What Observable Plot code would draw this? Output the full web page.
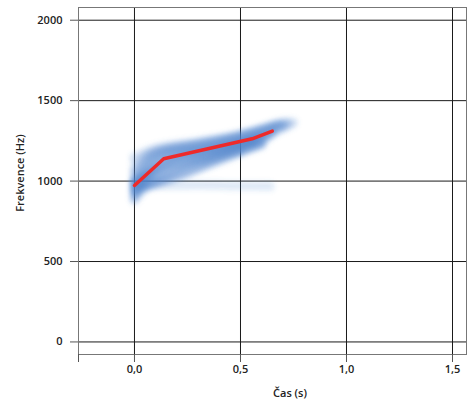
<!DOCTYPE html>
<html><head><meta charset="utf-8">
<script src="https://cdn.jsdelivr.net/npm/d3@7"></script>
<script src="https://cdn.jsdelivr.net/npm/@observablehq/plot@0.6"></script>
<style>body{margin:0;background:#fff}</style>
</head><body><div id="chart"></div>
<script>
// axis ticks
const xTicks = [0, 0.5, 1.0, 1.5];
const yTicks = [0, 500, 1000, 1500, 2000];
const xDomain = [-0.264, 1.566];
const yDomain = [-78, 2079];

// mean contour (red)
const meanTime = [0, 0.138, 0.555, 0.65];
const meanFreq = [973, 1139, 1263, 1311];

// individual contours (blue): [time s, frequency Hz]
const contour1  = [[0,1000],[0.10,1130],[0.30,1190],[0.50,1250],[0.62,1290],[0.72,1340]];
const contour2  = [[0,950],[0.12,1150],[0.35,1210],[0.55,1270],[0.70,1330]];
const contour3  = [[0,1050],[0.08,1170],[0.30,1225],[0.50,1285],[0.68,1360]];
const contour4  = [[0,920],[0.15,1120],[0.40,1200],[0.60,1260],[0.66,1300]];
const contour5  = [[0,980],[0.10,1100],[0.30,1170],[0.50,1230],[0.58,1270]];
const contour6  = [[0,1020],[0.12,1185],[0.40,1245],[0.60,1305],[0.74,1355]];
const contour7  = [[0,960],[0.15,1000],[0.30,1080],[0.50,1200],[0.62,1260]];
const contour8  = [[0,940],[0.20,1030],[0.40,1130],[0.60,1230]];
const contour9  = [[0.05,972],[0.30,975],[0.50,970],[0.64,968]];
const contour10 = [[0,990],[0.10,1060],[0.25,1100],[0.45,1180],[0.60,1240]];
const contour11 = [[0,900],[0.05,1020],[0.20,1140],[0.45,1220],[0.55,1260]];
const contour12 = [[0,1080],[0.10,1175],[0.35,1235],[0.60,1315],[0.72,1370]];
const contour13 = [[0,1010],[0.13,1160],[0.35,1205],[0.55,1255],[0.65,1300]];
const contour14 = [[0,930],[0.18,1060],[0.35,1150],[0.52,1240],[0.60,1270]];
const contour15 = [[0,1000],[0.20,1120],[0.40,1170],[0.58,1240]];
const contour16 = [[0,960],[0.09,1140],[0.30,1200],[0.52,1265],[0.69,1345]];
const contour17 = [[0,1060],[0.06,1150],[0.25,1215],[0.45,1270],[0.62,1330],[0.75,1365]];
const contour18 = [[0,890],[0.08,980],[0.25,1050],[0.45,1150],[0.58,1220]];
const contour19 = [[0,940],[0.10,1080],[0.28,1150],[0.48,1215],[0.63,1280]];
const contour20 = [[0,1130],[0.10,1200],[0.30,1245],[0.55,1300],[0.70,1365]];
const contour21 = [[0,985],[0.14,1030],[0.28,1120],[0.42,1190],[0.56,1250]];
const contour22 = [[0,910],[0.12,1110],[0.32,1180],[0.50,1240],[0.64,1290]];
const contour23 = [[0,950],[0.10,990],[0.25,1060],[0.40,1140],[0.55,1210],[0.60,1235]];
const contour24 = [[0,970],[0.15,1050],[0.30,1120],[0.45,1170],[0.60,1225]];
const contour25 = [[0,1000],[0.18,1090],[0.35,1130],[0.50,1190]];
const contour26 = [[0,880],[0.04,960],[0.15,1080],[0.35,1160],[0.55,1230]];
const contour27 = [[0,1150],[0.08,1195],[0.28,1235],[0.50,1290],[0.66,1350]];
const contours = [contour1,contour2,contour3,contour4,contour5,contour6,contour7,contour8,
  contour9,contour10,contour11,contour12,contour13,contour14,contour15,contour16,
  contour17,contour18,contour19,contour20,contour21,contour22,contour23,contour24,
  contour25,contour26,contour27];

const contourRows = contours.flatMap((c, i) => c.map(([t, f]) => ({id: i, t, f})));
const meanRows = meanTime.map((t, i) => ({t, f: meanFreq[i]}));

const W = 473, H = 410;
const chart = Plot.plot({
  width: W, height: H,
  marginLeft: 78, marginRight: 7, marginTop: 7, marginBottom: 56,
  style: {fontFamily: "'Open Sans', sans-serif", fontSize: "11px", color: "#222", background: "#fff"},
  x: {domain: xDomain, label: null},
  y: {domain: yDomain, label: null},
  marks: [
    Plot.ruleX(xTicks, {stroke: "#1a1a1a", strokeWidth: 1}),
    Plot.ruleY(yTicks, {stroke: "#1a1a1a", strokeWidth: 1}),
    Plot.line(contourRows, {x: "t", y: "f", z: "id", stroke: "#4f86cf", strokeOpacity: 0.11, strokeWidth: 11, curve: "monotone-x"}),
    Plot.line(contourRows, {x: "t", y: "f", z: "id", stroke: "#4a80c9", strokeOpacity: 0.10, strokeWidth: 4, curve: "monotone-x"}),
    Plot.line(meanRows, {x: "t", y: "f", stroke: "#ee2a2a", strokeWidth: 3.5, strokeLinejoin: "round", strokeLinecap: "round"}),
    Plot.frame({stroke: "#777"}),
    Plot.axisY(yTicks, {tickSize: 8, tickPadding: 8, fontWeight: 600, stroke: "#555", tickFormat: d => String(d)}),
    Plot.axisX([xDomain[0], ...xTicks], {tickSize: 8, tickPadding: 3, fontWeight: 600, stroke: "#555",
      tickFormat: d => d === xDomain[0] ? "" : d.toFixed(1).replace(".", ",")})
  ]
});

const svg = d3.select(chart);
// blur filter for individual contours
const defs = svg.insert("defs", ":first-child");
defs.append("filter").attr("id", "soft").attr("x", "-10%").attr("y", "-30%").attr("width", "120%").attr("height", "160%")
  .append("feGaussianBlur").attr("stdDeviation", 2.2);
svg.selectAll("g[aria-label='line']").filter((d, i) => i < 2).attr("filter", "url(#soft)");

svg.append("text").attr("x", 290).attr("y", 397).attr("text-anchor", "middle")
  .attr("font-size", 11).attr("font-weight", 600).attr("fill", "#222").text("Čas (s)");
svg.append("text").attr("transform", "translate(24,173) rotate(-90)").attr("text-anchor", "middle")
  .attr("font-size", 11).attr("font-weight", 600).attr("fill", "#222").text("Frekvence (Hz)");

document.getElementById("chart").appendChild(chart);
</script></body></html>
